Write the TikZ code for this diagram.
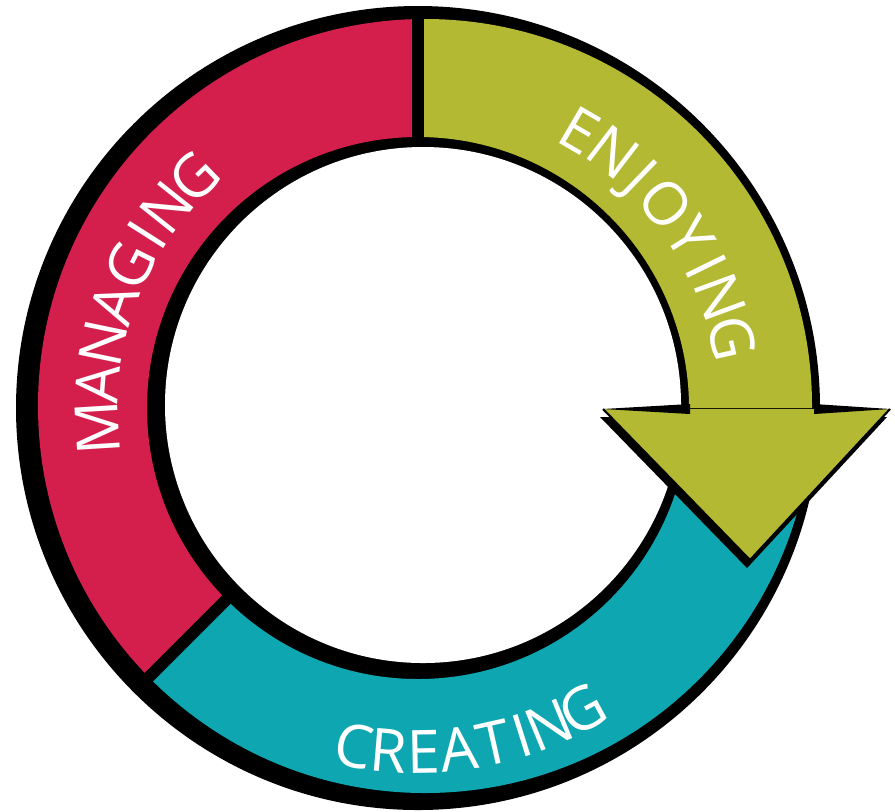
\documentclass[tikz,border=0pt]{standalone}
\usepackage{fontspec}
\newfontfamily\bandfont{Open Sans}
\usetikzlibrary{decorations.text, calc}
\definecolor{managing}{HTML}{D41F4C}
\definecolor{enjoying}{HTML}{B4B934}
\definecolor{creating}{HTML}{0DA6B1}
\tikzset{%
	divider/.style={line width=3.4pt, black},
	head/.style={draw=black, line width=0.6pt, line join=round},
	bandtext/.style={anchor=base, inner sep=0pt, text=white,%
		font=\bandfont\fontsize{17pt}{20pt}\selectfont}
}

\begin{document}
\begin{tikzpicture}[x=0.01cm, y=0.01cm]
	\useasboundingbox (0,0) rectangle (895,811);
	\coordinate (O) at (418,403);
	\coordinate (Oc) at (425,405);
	\coordinate (Oh) at (423,406);
	\coordinate (barbL) at (603,402);
	\coordinate (barbR) at (890,402);
	\coordinate (tip) at (750,251);

	% ring
	\fill[black] (O) circle (402);
	\begin{scope}
		\clip (O) -- ++(90:520) arc[start angle=90, end angle=225, radius=520] -- cycle;
		\fill[managing, even odd rule] (Oc) circle (387) (O) circle (271);
	\end{scope}
	\begin{scope}
		\clip (O) -- ++(225:520) arc[start angle=225, end angle=345, radius=520] -- cycle;
		\fill[creating, even odd rule] (Oc) circle (387) (O) circle (271);
	\end{scope}
	\begin{scope}
		\clip (O) -- ++(0:520) arc[start angle=0, end angle=90, radius=520] -- cycle;
		\fill[enjoying, even odd rule] (Oc) circle (387) (O) circle (271);
	\end{scope}
	\fill[white] (Oh) circle (258);
	\draw[divider] ($(O)+(90:262)$) -- ($(O)+(90:394)$);
	\draw[divider] ($(O)+(225:262)$) -- ($(O)+(225:392)$);

	% arrow head
	\fill[black] ($(barbL)+(-3,-8)$) -- ($(tip)+(-3,-8)$) -- ($(barbR)+(-3,-8)$) -- cycle;
	\fill[enjoying] (barbL) -- (tip) -- (barbR) -- cycle;
	\draw[head] (barbL) -- (tip) -- (barbR);
	\fill[black] (barbL) -- (690,407) -- (690,397) -- cycle;
	\fill[black] (barbR) -- (814,407) -- (814,397) -- cycle;

	% labels
	\path[decorate, decoration={text effects along path, text={MANAGING}, text align=center,
		text effects/.cd, text along path, character widths={inner xsep=1.7pt},
		characters={bandtext}}]
		(O) ++(204:300) arc[start angle=204, end angle=114, radius=300];
	\path[decorate, decoration={text effects along path, text={ENJOYING}, text align=center,
		text effects/.cd, text along path, character widths={inner xsep=1.7pt},
		characters={bandtext}}]
		(O) ++(81:300) arc[start angle=81, end angle=-9, radius=300];
	\path[decorate, decoration={text effects along path, text={CREATING}, text align=center,
		text effects/.cd, text along path, character widths={inner xsep=1.7pt},
		characters={bandtext}}]
		(O) ++(-126:365) arc[start angle=-126, end angle=-36, radius=365];
\end{tikzpicture}
\end{document}
